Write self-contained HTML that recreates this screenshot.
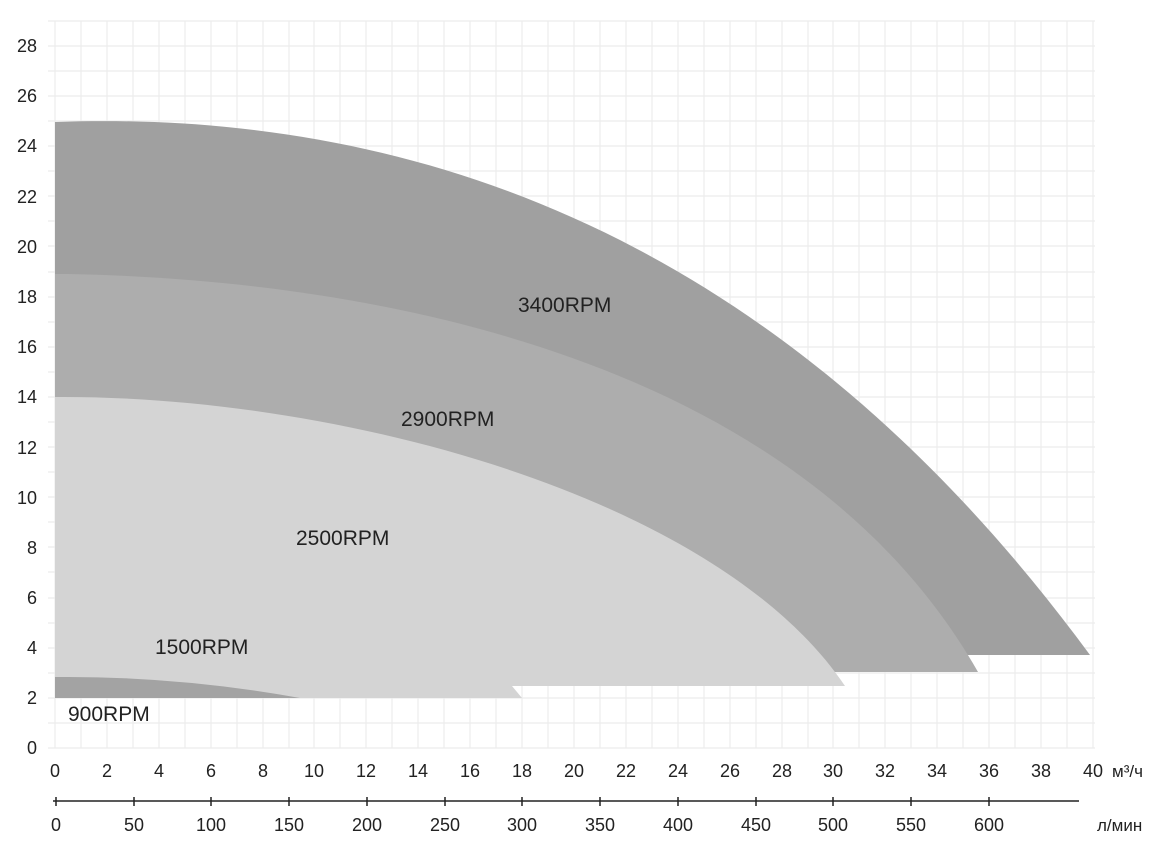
<!DOCTYPE html>
<html><head><meta charset="utf-8"><style>
html,body{margin:0;padding:0;background:#fff}
svg{display:block}
text{font-family:"Liberation Sans",sans-serif;fill:#222}
</style></head><body>
<svg width="1161" height="843" viewBox="0 0 1161 843">
<g stroke="#ececec" stroke-width="1.2">
<path d="M55,21V748M81,21V748M107,21V748M133,21V748M159,21V748M185,21V748M211,21V748M237,21V748M263,21V748M289,21V748M314,21V748M340,21V748M366,21V748M392,21V748M418,21V748M444,21V748M470,21V748M496,21V748M522,21V748M548,21V748M574,21V748M600,21V748M626,21V748M652,21V748M678,21V748M704,21V748M730,21V748M756,21V748M782,21V748M808,21V748M833,21V748M859,21V748M885,21V748M911,21V748M937,21V748M963,21V748M989,21V748M1015,21V748M1041,21V748M1067,21V748M1093,21V748"/>
<path d="M48,748H1095M48,723H1095M48,698H1095M48,673H1095M48,648H1095M48,623H1095M48,598H1095M48,572H1095M48,547H1095M48,522H1095M48,497H1095M48,472H1095M48,447H1095M48,422H1095M48,397H1095M48,372H1095M48,347H1095M48,322H1095M48,297H1095M48,272H1095M48,246H1095M48,221H1095M48,196H1095M48,171H1095M48,146H1095M48,121H1095M48,96H1095M48,71H1095M48,46H1095M48,21H1095"/>
</g>
<path d="M55,655 L55,122 L81,121.3 C450,115 800,260 1090,655 Z" fill="#a0a0a0"/>
<path d="M55,672 L55,274 L68,274 C380,280 800,360 978,672 Z" fill="#adadad"/>
<path d="M55,698 L55,397 L63,397 C350,397 720,500 845,686 L512,686 L522,698 Z" fill="#d4d4d4"/>
<path d="M55,698 L55,677 L68,677 Q184,677 300,698 Z" fill="#a3a3a3"/>
<g font-size="21">
<text x="518" y="312">3400RPM</text>
<text x="401" y="426">2900RPM</text>
<text x="296" y="545">2500RPM</text>
<text x="155" y="654">1500RPM</text>
<text x="68" y="721">900RPM</text>
</g>
<g font-size="18" text-anchor="end">
<text x="37" y="754">0</text><text x="37" y="704">2</text><text x="37" y="654">4</text><text x="37" y="604">6</text><text x="37" y="554">8</text><text x="37" y="504">10</text><text x="37" y="454">12</text><text x="37" y="403">14</text><text x="37" y="353">16</text><text x="37" y="303">18</text><text x="37" y="253">20</text><text x="37" y="203">22</text><text x="37" y="152">24</text><text x="37" y="102">26</text><text x="37" y="52">28</text>
</g>
<g font-size="18" text-anchor="middle">
<text x="55" y="777">0</text><text x="107" y="777">2</text><text x="159" y="777">4</text><text x="211" y="777">6</text><text x="263" y="777">8</text><text x="314" y="777">10</text><text x="366" y="777">12</text><text x="418" y="777">14</text><text x="470" y="777">16</text><text x="522" y="777">18</text><text x="574" y="777">20</text><text x="626" y="777">22</text><text x="678" y="777">24</text><text x="730" y="777">26</text><text x="782" y="777">28</text><text x="833" y="777">30</text><text x="885" y="777">32</text><text x="937" y="777">34</text><text x="989" y="777">36</text><text x="1041" y="777">38</text><text x="1093" y="777">40</text>
</g>
<text x="1112" y="777" font-size="17">м³/ч</text>
<path d="M53,801H1079" stroke="#222" stroke-width="1.5"/>
<g stroke="#222" stroke-width="1.5">
<path d="M56,797V806M134,797V806M211,797V806M289,797V806M367,797V806M445,797V806M522,797V806M600,797V806M678,797V806M756,797V806M833,797V806M911,797V806M989,797V806"/>
</g>
<g font-size="18" text-anchor="middle">
<text x="56" y="831">0</text><text x="134" y="831">50</text><text x="211" y="831">100</text><text x="289" y="831">150</text><text x="367" y="831">200</text><text x="445" y="831">250</text><text x="522" y="831">300</text><text x="600" y="831">350</text><text x="678" y="831">400</text><text x="756" y="831">450</text><text x="833" y="831">500</text><text x="911" y="831">550</text><text x="989" y="831">600</text>
</g>
<text x="1097" y="831" font-size="17">л/мин</text>
</svg>
</body></html>
